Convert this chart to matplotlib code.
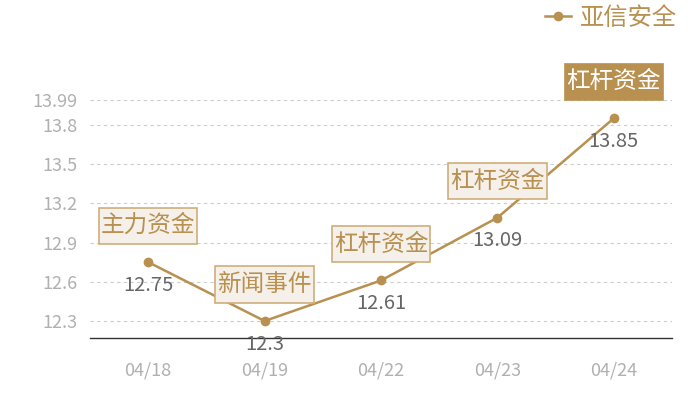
import matplotlib
matplotlib.use("Agg")
import matplotlib.pyplot as plt
from matplotlib.path import Path

plt.rcParams['font.family'] = ['Noto Sans CJK SC', 'DejaVu Sans']

# data
dates = ["04/18", "04/19", "04/22", "04/23", "04/24"]
prices = [12.75, 12.3, 12.61, 13.09, 13.85]
events = ["主力资金", "新闻事件", "杠杆资金", "杠杆资金", "杠杆资金"]
yticks = [12.3, 12.6, 12.9, 13.2, 13.5, 13.8, 13.99]
series_name = "亚信安全"

gold = "#b8904f"
box_face = "#f5f0e9"
box_edge = "#cfae7c"


def label_box(x0, y0, width, height, mutation_size):
    # rectangle with separate horizontal / vertical padding
    px = 0.08 * mutation_size
    py = 0.28 * mutation_size
    x0, y0 = x0 - px, y0 - py
    x1, y1 = x0 + width + 2 * px, y0 + height + 2 * py
    return Path([(x0, y0), (x1, y0), (x1, y1), (x0, y1), (x0, y0)], closed=True)


fig = plt.figure(figsize=(7, 4), dpi=100)
ax = fig.add_axes([0.1286, 0.155, 0.8314, 0.595])

x = list(range(len(dates)))
ax.plot(x, prices, color=gold, linewidth=1.8, marker='o', markersize=6,
        label=series_name, clip_on=False, zorder=3)

ax.set_xlim(-0.5, len(dates) - 0.5)
ax.set_ylim(12.17, 13.99)
ax.set_yticks(yticks)
ax.set_yticklabels([str(v) for v in yticks])
ax.set_xticks(x)
ax.set_xticklabels(dates)
ax.tick_params(axis='both', length=0, colors="#b0b0b0", labelsize=13)
ax.tick_params(axis='x', pad=17)
ax.tick_params(axis='y', pad=9)

for s in ["left", "right", "top"]:
    ax.spines[s].set_visible(False)
ax.spines["bottom"].set_color("#333333")
ax.spines["bottom"].set_linewidth(1)

ax.grid(axis='y', linestyle=(0, (3, 3)), color="#cccccc", linewidth=0.8)
ax.set_axisbelow(True)

# value labels below points
for xi, v in zip(x, prices):
    ax.annotate(f"{v:g}", (xi, v), xytext=(0, -9), textcoords="offset points",
                ha="center", va="top", fontsize=14.5, color="#666666", zorder=5,
                annotation_clip=False)

# event boxes above points
for i, (xi, v, ev) in enumerate(zip(x, prices, events)):
    last = i == len(x) - 1
    ax.annotate(ev, (xi, v), xytext=(0, 18), textcoords="offset points",
                ha="center", va="bottom", fontsize=17,
                color="white" if last else gold, zorder=6,
                annotation_clip=False,
                bbox=dict(boxstyle=label_box,
                          facecolor=gold if last else box_face,
                          edgecolor=gold if last else box_edge,
                          linewidth=1.2))

ax.legend(loc="center right", bbox_to_anchor=(0.967, 0.955),
          bbox_transform=fig.transFigure, frameon=False, fontsize=17.5,
          handlelength=1.1, handletextpad=0.35, labelcolor=gold,
          borderaxespad=0, borderpad=0)

fig.savefig("out.png", dpi=100)
